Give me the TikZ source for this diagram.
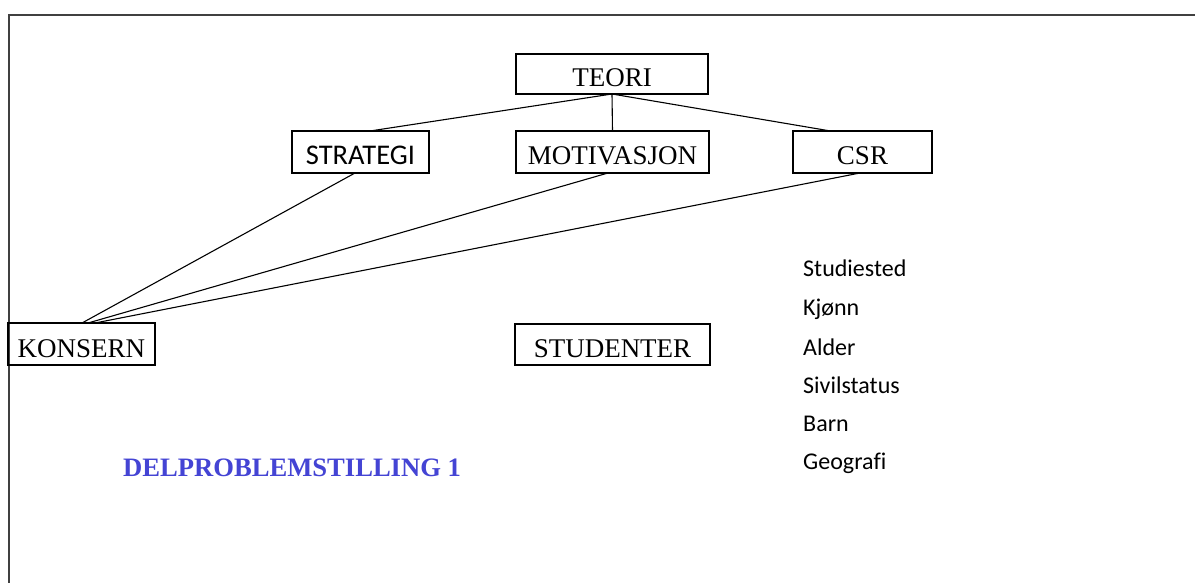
\documentclass[tikz,border=0pt]{standalone}
\usepackage{fontspec}
\setmainfont{Liberation Serif}
\newfontfamily\calfont[Ligatures=NoCommon]{Carlito}
\definecolor{framegray}{RGB}{64,64,64}
\definecolor{titleblue}{RGB}{68,68,212}
\begin{document}
\begin{tikzpicture}[x=1pt,y=-1pt,
  box/.style={draw=black, line width=1.3pt, inner sep=0pt, outer sep=0pt,
    text height=26pt, text depth=0pt, font=\fontsize{27}{32}\selectfont},
  sansbox/.style={box, font=\calfont\fontsize{28.5}{33}\selectfont},
  link/.style={draw=black, line width=1.1pt},
  item/.style={anchor=base west, inner sep=0pt, font=\calfont\fontsize{24}{28}\selectfont},
  heading/.style={anchor=base west, inner sep=0pt, text=titleblue,
    font=\bfseries\fontsize{26.6}{31}\selectfont}]
  \useasboundingbox (0,0) rectangle (1195,583);
  \fill[white] (0,0) rectangle (1195,583);

  % page frame (left and top edges)
  \draw[framegray, line width=2pt] (9,583) |- (1195,15);

  % theory tree
  \node[box, minimum width=192pt, minimum height=40pt] (teori) at (612,74) {TEORI};
  \node[sansbox, minimum width=137pt, minimum height=42pt] (strategi) at (360.5,152) {STRATEGI};
  \node[box, minimum width=193pt, minimum height=42pt] (motivasjon) at (612.5,152) {MOTIVASJON};
  \node[box, minimum width=139pt, minimum height=42pt] (csr) at (862.5,152) {CSR};

  % actors
  \node[box, minimum width=147pt, minimum height=42pt] (konsern) at (81.5,344) {KONSERN};
  \node[box, minimum width=195pt, minimum height=41pt] (studenter) at (612.5,344.5) {STUDENTER};

  % connectors
  \draw[link] (teori.south) -- ([xshift=9.5pt]strategi.north);
  \draw[link] (teori.south) -- (motivasjon.north);
  \draw[link] (teori.south) -- ([xshift=-32pt]csr.north);
  \draw[link] ([xshift=-5.5pt]strategi.south) -- ([xshift=0.5pt]konsern.north);
  \draw[link] ([xshift=-4.5pt]motivasjon.south) -- ([xshift=6.5pt]konsern.north);
  \draw[link] ([xshift=-2.5pt]csr.south) -- ([xshift=13.5pt]konsern.north);

  % student attributes
  \node[item] (studiested) at (803,276) {Studiested};
  \node[item] (kjonn) at (803,315) {Kjønn};
  \node[item] (alder) at (803,355) {Alder};
  \node[item] (sivilstatus) at (803,393) {Sivilstatus};
  \node[item] (barn) at (803,431) {Barn};
  \node[item] (geografi) at (803,469) {Geografi};

  \node[heading] (delproblem) at (123,476) {DELPROBLEMSTILLING 1};
\end{tikzpicture}
\end{document}
